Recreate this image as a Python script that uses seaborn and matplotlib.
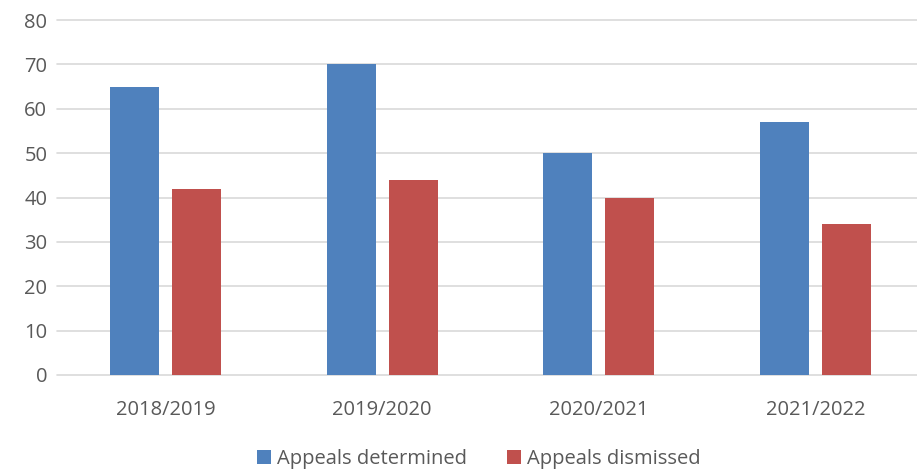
import matplotlib
matplotlib.use("Agg")
import matplotlib.pyplot as plt
import seaborn as sns
import pandas as pd
from matplotlib.patches import Patch

categories = ["2018/2019", "2019/2020", "2020/2021", "2021/2022"]
series_names = ["Appeals determined", "Appeals dismissed"]
determined = [65, 70, 50, 57]
dismissed = [42, 44, 40, 34]
yticks = [0, 10, 20, 30, 40, 50, 60, 70, 80]

colors = ["#4F81BD", "#C0504D"]

df = pd.DataFrame({
    "year": categories * 2,
    "series": [series_names[0]] * 4 + [series_names[1]] * 4,
    "value": determined + dismissed,
})

sns.set_style("white")
plt.rcParams["font.family"] = ["Open Sans", "DejaVu Sans"]

fig = plt.figure(figsize=(9.17, 4.71), dpi=100)
ax = fig.add_axes([57 / 917, 96 / 471, 867 / 917, 355 / 471])

sns.barplot(data=df, x="year", y="value", hue="series", palette=colors,
            width=0.572, gap=0.21, ax=ax, legend=False, saturation=1,
            linewidth=0, edgecolor="none")

ax.set_ylim(0, 80)
ax.set_xlim(-0.5, 3.5)
ax.set_yticks(yticks)
ax.yaxis.grid(True, color="#D9D9D9", linewidth=1.2)
for gl in ax.get_ygridlines():
    gl.set_clip_on(False)
ax.set_axisbelow(True)
for s in ax.spines.values():
    s.set_visible(False)
ax.tick_params(axis="both", length=0, colors="#595959", labelsize=14.5)
ax.tick_params(axis="y", pad=7)
ax.tick_params(axis="x", pad=18)
ax.set_xlabel("")
ax.set_ylabel("")

handles = [Patch(facecolor=c, edgecolor="none") for c in colors]
fig.legend(handles, series_names, loc="center", bbox_to_anchor=(479 / 917, 1 - 459 / 471),
           ncol=2, frameon=False, fontsize=14.5, handlelength=0.7, handleheight=0.7,
           handletextpad=0.3, columnspacing=2.0, labelcolor="#595959")

fig.savefig("out.png", dpi=100)
